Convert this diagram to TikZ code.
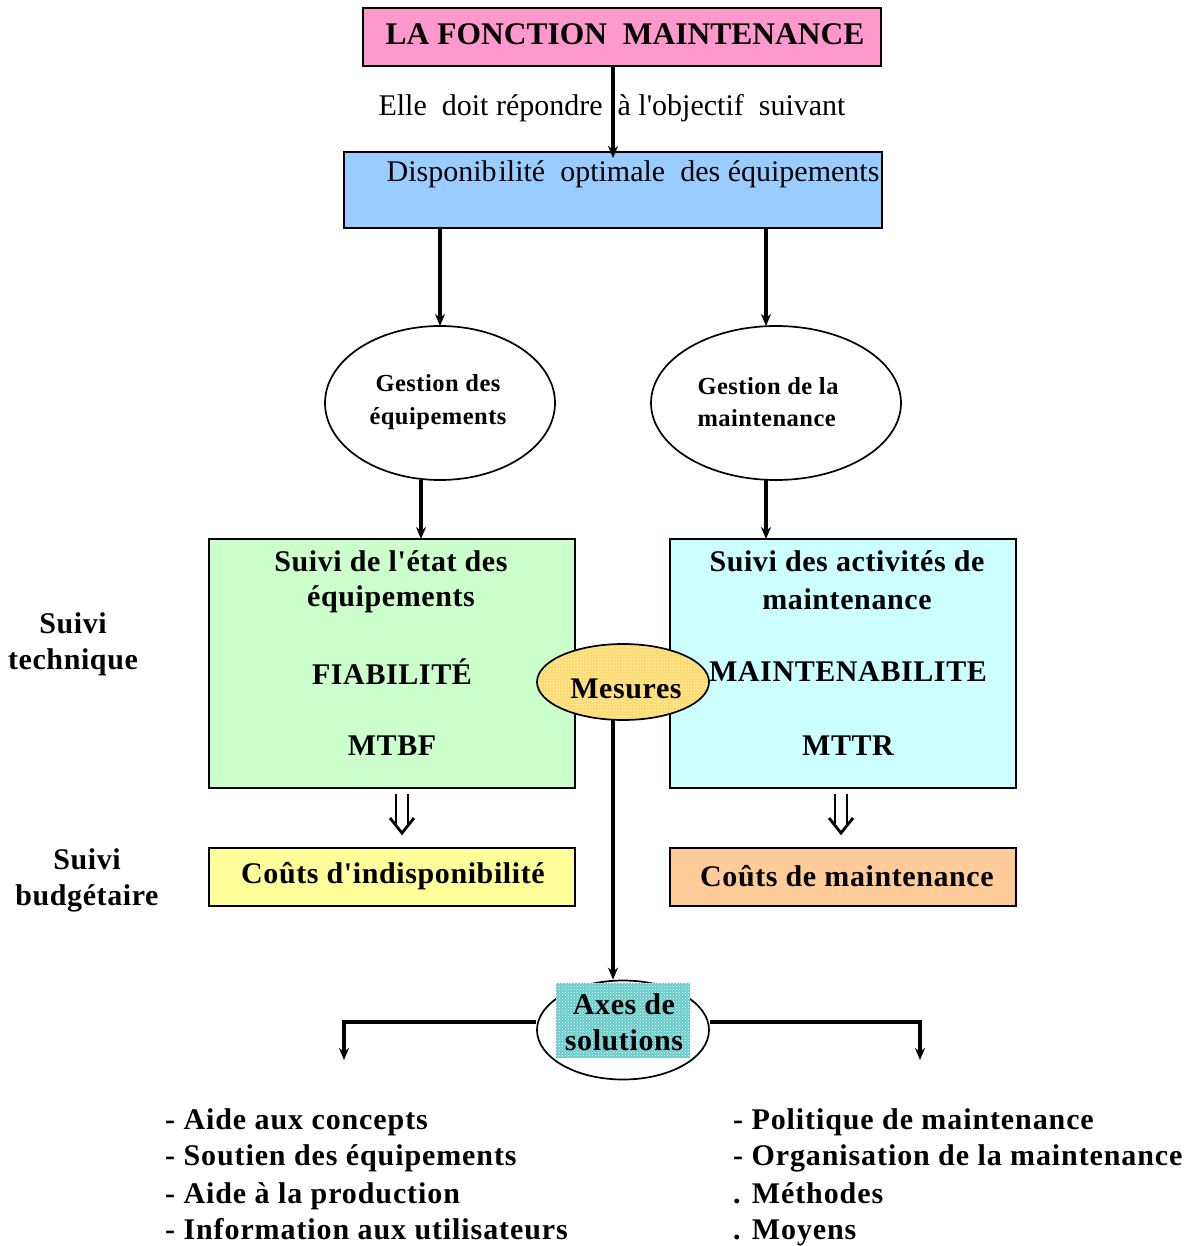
\documentclass[tikz,border=0pt]{standalone}
\usepackage{fontspec}
\setmainfont{Liberation Serif}[Ligatures=TeXOff]
\usetikzlibrary{arrows.meta,patterns,shapes.geometric}
\definecolor{pinkbox}{HTML}{FF99CC}
\definecolor{bluebox}{HTML}{99CCFF}
\definecolor{greenbox}{HTML}{CCFFCC}
\definecolor{cyanbox}{HTML}{CCFFFF}
\definecolor{yellowbox}{HTML}{FFFF99}
\definecolor{orangebox}{HTML}{FFCC99}
\definecolor{mesfill}{HTML}{FFD966}
\definecolor{axefill}{HTML}{66CCCC}
\newcommand{\fs}[1]{\fontsize{#1}{#1}\selectfont}
\newcommand{\bfsp}[1]{\bfseries\addfontfeatures{LetterSpace=#1}}
\tikzset{
  box/.style={draw=black, line width=1.7pt, inner sep=0pt},
  tip/.style={-{Stealth[length=12pt,width=10pt]}},
  arr/.style={line width=3.5pt, tip},
  conn/.style={line width=3.5pt},
  lbl/.style={inner sep=0pt, anchor=center},
  big/.style={font=\fs{30}\bfsp{2}},
  list/.style={inner sep=0pt, anchor=base west, font=\fs{30}\bfsp{3}},
  dbl/.style={line width=2.8pt},
}
\begin{document}
\begin{tikzpicture}[x=1pt,y=-1pt]
\useasboundingbox (0,0) rectangle (1187,1246);

% title and objective
\draw[box, fill=pinkbox] (363,8) rectangle (881,66);
\node[lbl, font=\fs{31.5}\bfseries] (title) at (625,34) {LA FONCTION \ MAINTENANCE};
\coordinate (tb) at (613,66);
\draw[box, fill=bluebox] (344,152) rectangle (882,228);
\node[lbl, font=\fs{30}] (dispo) at (633,174) {Disponib\kern2pt ilité \ optimale \ des équipements};
\coordinate (bt) at (613,158);
\node[lbl, font=\fs{30}] (obj) at (612,108) {Elle \ doit répondre \ à l'objectif \ suivant};
\draw[arr] (tb) -- (bt);

% management ellipses
\node[draw, ellipse, line width=1.7pt, minimum width=230pt, minimum height=154pt, fill=white] (g1) at (440,403) {};
\node[draw, ellipse, line width=1.7pt, minimum width=250pt, minimum height=154pt, fill=white] (g2) at (776,403) {};
\node[lbl, font=\fs{24.5}\bfsp{2}, align=center] (g1t) at (438,402) {Gestion des\\[8pt]équipements};
\node[lbl, font=\fs{24.5}\bfsp{2}, align=left] (g2t) at (768,402) {Gestion de la\\[8pt]maintenance};

\coordinate (b1) at (440,228);
\coordinate (b2) at (766,228);
\draw[arr] (b1) -- (440,326);
\draw[arr] (b2) -- (766,326);

% tracking boxes
\draw[box, fill=greenbox] (209,539) rectangle (575,788);
\draw[box, fill=cyanbox] (670,539) rectangle (1016,788);
\draw[arr] (421,480) -- (421,539);
\draw[arr] (766,480) -- (766,539);
\node[lbl, big] (s1a) at (391,561) {Suivi de l'état des};
\node[lbl, big] (s1b) at (391,599) {équipements};
\node[lbl, big] (fiab) at (392,672) {FIABILITÉ};
\node[lbl, big] (mtbf) at (392,746) {MTBF};
\node[lbl, big] (s2a) at (847,561) {Suivi des activités de};
\node[lbl, big] (s2b) at (847,599) {maintenance};
\node[lbl, big] (mainte) at (848,672) {MAINTENABILITE};
\node[lbl, big] (mttr) at (848,746) {MTTR};

% Mesures ellipse with dotted fill
\fill[mesfill] (623,682) ellipse [x radius=86pt, y radius=38pt];
\fill[pattern=crosshatch dots, pattern color=white] (623,682) ellipse [x radius=86pt, y radius=38pt];
\draw[line width=1.7pt] (623,682) ellipse [x radius=86pt, y radius=38pt];
\node[lbl, big] (mes) at (626,689) {Mesures};
\coordinate (mesb) at (613,720);

% double arrows towards costs
\foreach \cx/\nm in {402/d1, 841/d2}{
  \coordinate (\nm) at (\cx,794);
  \draw[dbl] (\cx-6,794) -- (\cx-6,826);
  \draw[dbl] (\cx+6,794) -- (\cx+6,826);
  \draw[dbl, line join=miter] (\cx-12,818) -- (\cx,833) -- (\cx+12,818);
}

% budget boxes
\draw[box, fill=yellowbox] (209,848) rectangle (575,906);
\draw[box, fill=orangebox] (670,848) rectangle (1016,906);
\node[lbl, big] (c1) at (393,876) {Coûts d'indisponibilité};
\node[lbl, big] (c2) at (847,876) {Coûts de maintenance};

% side labels
\node[lbl, big, align=center] (st) at (73,644) {Suivi\\[6pt]technique};
\node[lbl, big, align=center] (sb) at (87,880) {Suivi\\[6pt]budgétaire};

% Axes de solutions
\node[draw, ellipse, line width=1.7pt, minimum width=172pt, minimum height=99pt, fill=white] (axes) at (623,1030) {};
\fill[axefill] (556,983) rectangle (690,1058);
\fill[pattern=crosshatch dots, pattern color=white] (556,983) rectangle (690,1058);
\node[lbl, big, align=center] (axtxt) at (624,1022) {Axes de\\[6pt]solutions};
\draw[arr] (mesb) -- (axes.north -| mesb);

\draw[conn, tip] (axes.west |- 0,1022) -- (344,1022) -- (344,1060);
\draw[conn, tip] (axes.east |- 0,1022) -- (920,1022) -- (920,1060);

% lists of solutions
\node[list] (l1) at (165,1129) {- Aide aux concepts};
\node[list] (l2) at (165,1165) {- Soutien des équipements};
\node[list] (l3) at (165,1203) {- Aide à la production};
\node[list] (l4) at (165,1239) {- Information aux utilisateurs};
\node[list] (r1) at (733,1129) {- Politique de maintenance};
\node[list] (r2) at (733,1165) {- Organisation de la maintenance};
\node[list] (r3) at (733,1203) {. Méthodes};
\node[list] (r4) at (733,1239) {. Moyens};
\end{tikzpicture}
\end{document}
